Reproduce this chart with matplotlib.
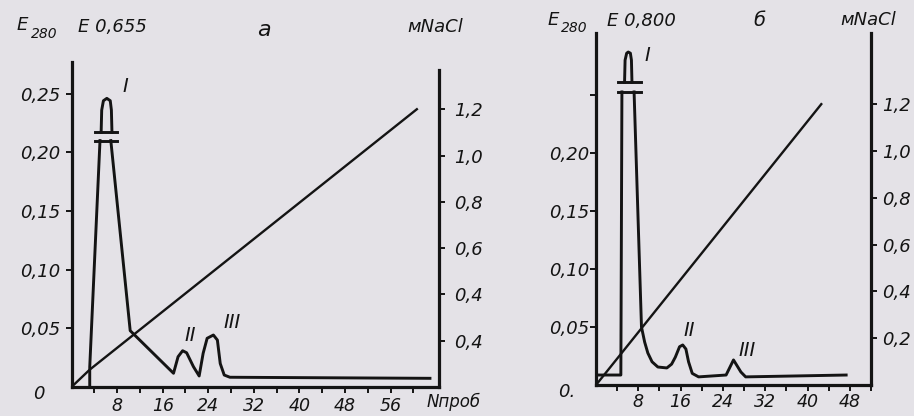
import matplotlib.pyplot as plt

# ---------------------------------------------------
# данные, панель а
# ---------------------------------------------------
a_low_x = [3.2, 3.2, 5.0]
a_low_y = [0.0, 0.017, 0.210]
a_top_x = [5.2, 5.3, 5.6, 6.2, 6.8, 7.0, 7.1]
a_top_y = [0.217, 0.236, 0.244, 0.246, 0.244, 0.236, 0.217]
a_tail_x = [6.9, 10.3, 17.9, 18.7, 19.5, 20.2, 21.4, 22.4, 23.1, 23.8, 24.9, 25.6, 26.1, 26.8, 27.8, 62.9]
a_tail_y = [0.210, 0.048, 0.0117, 0.0258, 0.0309, 0.0292, 0.0173, 0.0094, 0.0287, 0.0415,
            0.0443, 0.040, 0.020, 0.0102, 0.0083, 0.0074]
a_salt_x = [0, 3.2, 60.6]
a_salt_y = [0, 0.075, 1.2]
a_break = [0.210, 0.217]
a_xticks = [8, 16, 24, 32, 40, 48, 56]
a_yticks = [0.05, 0.10, 0.15, 0.20, 0.25]
a_ylabels = ["0,05", "0,10", "0,15", "0,20", "0,25"]
a_rticks = [0.2, 0.4, 0.6, 0.8, 1.0, 1.2]
a_rlabels = ["0,4", "0,4", "0,6", "0,8", "1,0", "1,2"]

# ---------------------------------------------------
# данные, панель б
# ---------------------------------------------------
b_low_x = [0, 4.7, 4.9]
b_low_y = [0.0086, 0.0086, 0.2526]
b_top_x = [5.4, 5.5, 5.8, 6.1, 6.5, 6.7, 6.8]
b_top_y = [0.261, 0.280, 0.286, 0.287, 0.286, 0.280, 0.261]
b_tail_x = [7.2, 8.6, 9.2, 9.8, 10.6, 11.7, 13.4, 14.3, 15.0, 15.8, 16.4, 17.0, 17.5, 18.2, 19.4,
            24.6, 26.0, 27.4, 28.3, 47.3]
b_tail_y = [0.2526, 0.05, 0.037, 0.0276, 0.020, 0.0155, 0.0147, 0.018, 0.024, 0.033, 0.0345,
            0.031, 0.020, 0.010, 0.007, 0.0086, 0.0216, 0.0112, 0.007, 0.0086]
b_salt_x = [0, 42.6]
b_salt_y = [0, 1.2]
b_break = [0.2526, 0.261]
b_xticks = [8, 16, 24, 32, 40, 48]
b_yticks = [0.05, 0.10, 0.15, 0.20]
b_ylabels = ["0,05", "0,10", "0,15", "0,20"]
b_rticks = [0.2, 0.4, 0.6, 0.8, 1.0, 1.2]
b_rlabels = ["0,2", "0,4", "0,6", "0,8", "1,0", "1,2"]

bg = "#e4e2e7"
ink = "#141414"
lw = 2.1

plt.rcParams["font.family"] = "DejaVu Sans"
plt.rcParams["font.style"] = "italic"

fig = plt.figure(figsize=(9.14, 4.16), dpi=100)
fig.patch.set_facecolor(bg)


def make_panel(rect, xmax, ymax, rmax, rtop, xticks, yticks, ylabels, rticks, rlabels,
               xpad, ypad, rpad):
    ax = fig.add_axes(rect)
    ax.set_facecolor("none")
    ax.set_xlim(0, xmax)
    ax.set_ylim(0, ymax)
    axr = ax.twinx()
    axr.set_ylim(0, rmax)
    for s in ["top", "right"]:
        ax.spines[s].set_visible(False)
    for s in ["top", "left", "bottom"]:
        axr.spines[s].set_visible(False)
    for sp in [ax.spines["left"], ax.spines["bottom"], axr.spines["right"]]:
        sp.set_linewidth(2.3)
        sp.set_color(ink)
    axr.spines["right"].set_bounds(0, rtop)

    ax.set_xticks(xticks)
    ax.set_xticklabels([str(t) for t in xticks])
    ax.set_xticks([t - 4 for t in xticks] + [xticks[-1] + 4], minor=True)
    ax.set_yticks(yticks)
    ax.set_yticklabels(ylabels)
    axr.set_yticks(rticks)
    axr.set_yticklabels(rlabels)

    ax.tick_params(axis="x", which="both", direction="out", length=4, width=1.4,
                   colors=ink, labelsize=12.5, pad=xpad)
    ax.tick_params(axis="y", direction="out", length=4, width=1.4,
                   colors=ink, labelsize=13, pad=ypad)
    axr.tick_params(axis="y", direction="out", length=4, width=1.4,
                    colors=ink, labelsize=13, pad=rpad)
    return ax, axr


# ---------------------------------------------------
# панель а
# ---------------------------------------------------
ax1, ax1r = make_panel([71.5 / 914, 29 / 416, 367 / 914, 325 / 416], 64.4, 0.277, 1.404, 1.37,
                       a_xticks, a_yticks, a_ylabels, a_rticks, a_rlabels, 3, 4, 7)
ax1.plot(a_low_x, a_low_y, color=ink, lw=lw, solid_joinstyle="round")
ax1.plot(a_top_x, a_top_y, color=ink, lw=lw, solid_joinstyle="round")
ax1.plot(a_tail_x, a_tail_y, color=ink, lw=lw, solid_joinstyle="round")
for yb in a_break:
    ax1.plot([4.1, 8.0], [yb, yb], color=ink, lw=lw)
ax1r.plot(a_salt_x, a_salt_y, color=ink, lw=1.7)

ax1.text(9.4, 0.256, "I", fontsize=14, ha="center", va="center", color=ink)
ax1.text(20.8, 0.044, "II", fontsize=14, ha="center", va="center", color=ink)
ax1.text(28.2, 0.055, "III", fontsize=14, ha="center", va="center", color=ink)

# ---------------------------------------------------
# панель б
# ---------------------------------------------------
ax2, ax2r = make_panel([596 / 914, 31 / 416, 275 / 914, 352 / 416], 48, 0.3034, 1.504, 1.504,
                       b_xticks, b_yticks, b_ylabels, b_rticks, b_rlabels, 2, 1, 4)
ax2.set_yticks([0.25], minor=True)
ax2.tick_params(axis="y", which="minor", direction="out", length=4, width=1.4, colors=ink)
ax2.plot(b_low_x, b_low_y, color=ink, lw=lw, solid_joinstyle="round")
ax2.plot(b_top_x, b_top_y, color=ink, lw=lw, solid_joinstyle="round")
ax2.plot(b_tail_x, b_tail_y, color=ink, lw=lw, solid_joinstyle="round")
for yb in b_break:
    ax2.plot([4.2, 8.6], [yb, yb], color=ink, lw=lw)
ax2r.plot(b_salt_x, b_salt_y, color=ink, lw=1.7)

ax2.text(9.8, 0.284, "I", fontsize=14, ha="center", va="center", color=ink)
ax2.text(17.6, 0.047, "II", fontsize=14, ha="center", va="center", color=ink)
ax2.text(28.6, 0.030, "III", fontsize=14, ha="center", va="center", color=ink)

# ---------------------------------------------------
# подписи
# ---------------------------------------------------
def ftext(x, y, s, size=13, **kw):
    fig.text(x / 914, 1 - y / 416, s, fontsize=size, color=ink, va="center", **kw)


ftext(17, 25, "E", 13)
ftext(31, 34, "280", 10)
ftext(78, 27, "E 0,655", 13)
ftext(257, 30, "a", 16)
ftext(407, 27, "мNaCl", 13)
ftext(39, 394, "0", 13, ha="center")
ftext(427, 402, "Nпроб", 12)

ftext(548, 20, "E", 13)
ftext(561, 28, "280", 10)
ftext(607, 21, "E 0,800", 13)
ftext(753, 21, "б", 14)
ftext(840, 20, "мNaCl", 13)
ftext(567, 392, "0.", 13, ha="center")

fig.savefig("out.png", dpi=100, facecolor=bg)
